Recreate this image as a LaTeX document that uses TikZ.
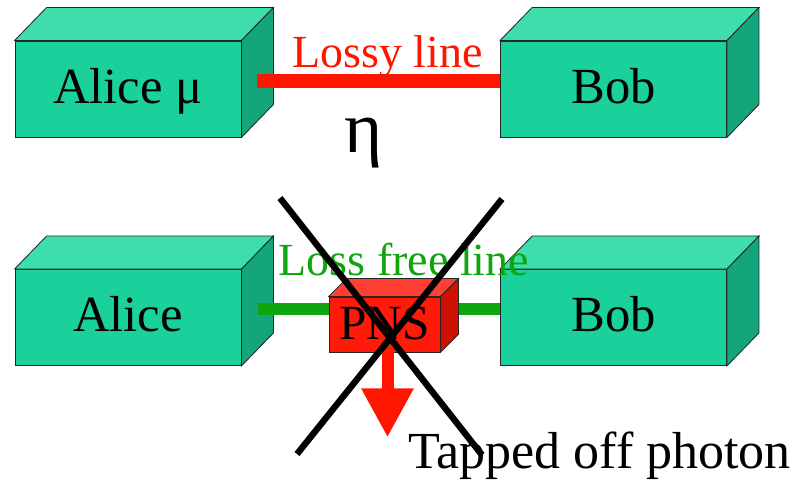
\documentclass[tikz,border=0pt]{standalone}
\usepackage{fontspec}
\setmainfont{Liberation Serif}
\usepackage{tikz}
\usetikzlibrary{arrows.meta}

\definecolor{cubefront}{RGB}{26,208,155}
\definecolor{cubetop}{RGB}{62,221,172}
\definecolor{cubeside}{RGB}{20,166,122}
\definecolor{lossred}{RGB}{255,22,0}
\definecolor{freegreen}{RGB}{14,165,14}
\definecolor{pnsfront}{RGB}{255,26,10}
\definecolor{pnstop}{RGB}{255,62,52}
\definecolor{pnsside}{RGB}{205,16,0}

\begin{document}
\begin{tikzpicture}[x=0.025cm, y=-0.025cm,
  edge/.style={draw=black!85, line width=0.6pt},
  cube/.style={edge, fill=cubefront, minimum width=5.65cm, minimum height=2.4cm,
    inner sep=0pt, text height=0.7cm, text depth=0cm, font=\fontsize{36}{42}\selectfont},
  pnsbox/.style={edge, fill=pnsfront, minimum width=2.775cm, minimum height=1.375cm,
    inner sep=0pt, text height=0.725cm, text depth=0cm, font=\fontsize{35}{40}\selectfont},
  linelabel/.style={inner sep=0pt, anchor=base, font=\fontsize{32.7}{38}\selectfont}]
\useasboundingbox (0,0) rectangle (792,481);

% upper setup
\node[cube] (aliceT) at (128,89) {Alice μ};
\node[cube] (bobT) at (613.5,89) {Bob};
% lower setup
\node[cube] (aliceB) at (128,317.5) {Alice};
\node[cube] (bobB) at (613.5,317.5) {Bob};

\foreach \b in {aliceT,bobT,aliceB,bobB} {
  \draw[edge, fill=cubetop] (\b.north west) -- ++(32,-33)
    -- ([shift={(32,-33)}]\b.north east) -- (\b.north east) -- cycle;
  \draw[edge, fill=cubeside] (\b.north east) -- ++(32,-33)
    -- ([shift={(32,-33)}]\b.south east) -- (\b.south east) -- cycle;
}

\draw[lossred, line width=0.35cm] ([shift={(16,-8.5)}]aliceT.east) -- ([shift={(0,-8.5)}]bobT.west);
\draw[freegreen, line width=0.3cm] ([shift={(17,-8.5)}]aliceB.east) -- ([shift={(0,-8.5)}]bobB.west);

\node[linelabel, text=lossred] (lossy) at (387.5,67) {Lossy line};
\node[inner sep=0pt, anchor=base, font=\fontsize{52}{58}\selectfont] (eta) at (364,152) {η};
\node[linelabel, text=freegreen] (lossfree) at (404,275) {Loss free line};

% photon number splitting
\node[pnsbox] (pns) at (384.5,324.5) {PNS};
\draw[edge, fill=pnstop] (pns.north west) -- ++(18,-18)
  -- ([shift={(18,-18)}]pns.north east) -- (pns.north east) -- cycle;
\draw[edge, fill=pnsside] (pns.north east) -- ++(18,-18)
  -- ([shift={(18,-18)}]pns.south east) -- (pns.south east) -- cycle;
\draw[lossred, line width=0.3cm, -{Triangle[width=1.225cm, length=1.225cm]}]
  ([shift={(3,0)}]pns.south) -- ++(0,85);

\node[inner sep=0pt, anchor=base west, font=\fontsize{37}{43}\selectfont] (tapped) at (408,468) {Tapped off photon};

\draw[line width=0.16cm] (280,198) -- (482,455) (502,199) -- (297,454);
\end{tikzpicture}
\end{document}
